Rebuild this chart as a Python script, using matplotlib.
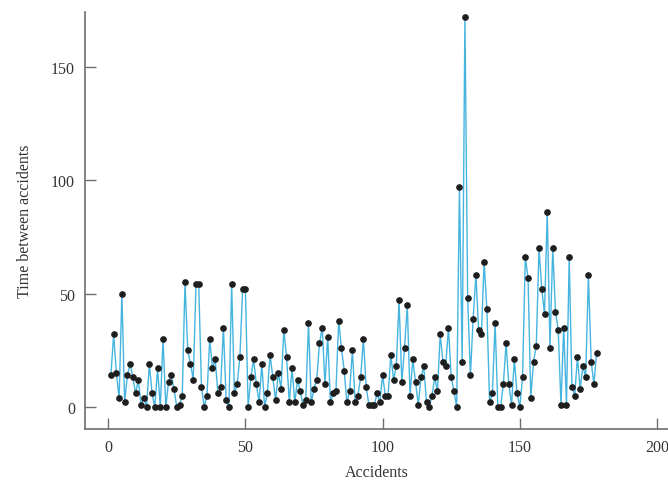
import numpy as np
import matplotlib.pyplot as plt

# tiempo entre accidentes consecutivos
tiempos = [14, 32, 15, 4, 50, 2, 14, 19, 13, 6,
           12, 1, 4, 0, 19, 6, 0, 17, 0, 30,
           0, 11, 14, 8, 0, 1, 5, 55, 25, 19,
           12, 54, 54, 9, 0, 5, 30, 17, 21, 6,
           9, 35, 3, 0, 54, 6, 10, 22, 52, 52,
           0, 13, 21, 10, 2, 19, 0, 6, 23, 13,
           3, 15, 8, 34, 22, 2, 17, 2, 12, 7,
           1, 3, 37, 2, 8, 12, 28, 35, 10, 31,
           2, 6, 7, 38, 26, 16, 2, 7, 25, 2,
           5, 13, 30, 9, 1, 1, 1, 6, 2, 14,
           5, 5, 23, 12, 18, 47, 11, 26, 45, 5,
           21, 11, 1, 13, 18, 2, 0, 5, 13, 7,
           32, 20, 18, 35, 13, 7, 0, 97, 20, 172,
           48, 14, 39, 58, 34, 32, 64, 43, 2, 6,
           37, 0, 0, 10, 28, 10, 1, 21, 6, 0,
           13, 66, 57, 4, 20, 27, 70, 52, 41, 86,
           26, 70, 42, 34, 1, 35, 1, 66, 9, 5,
           22, 8, 18, 13, 58, 20, 10, 24]
accidentes = np.arange(1, len(tiempos) + 1)

xticks = [0, 50, 100, 150, 200]
yticks = [0, 50, 100, 150]

plt.rcParams['font.family'] = ['Liberation Serif', 'DejaVu Serif']

fig = plt.figure(figsize=(6.68, 4.89), dpi=100)
ax = fig.add_axes([0.127, 0.1207, 0.873, 0.853])

ax.plot(accidentes, tiempos, color='#45b5e0', linewidth=1.0, zorder=1)
ax.plot(accidentes, tiempos, 'o', color='#1e1e1e', markersize=3.8, zorder=2)

ax.set_xlim(-8.5, 204)
ax.set_ylim(-9.7, 174.2)
ax.set_xticks(xticks)
ax.set_yticks(yticks)

for lado in ['top', 'right']:
    ax.spines[lado].set_visible(False)
for lado in ['left', 'bottom']:
    ax.spines[lado].set_color('#6e6e6e')
    ax.spines[lado].set_linewidth(1.2)

ax.tick_params(direction='in', length=8, width=1.0, color='#6e6e6e',
               labelsize=11.5, labelcolor='#333333')
ax.tick_params(axis='y', pad=7)
ax.tick_params(axis='x', pad=7)

ax.set_xlabel('Accidents', fontsize=11.5, color='#333333', labelpad=7)
ax.set_ylabel('Time between accidents', fontsize=11.5, color='#333333', labelpad=13)

plt.savefig('out.png', dpi=100)
